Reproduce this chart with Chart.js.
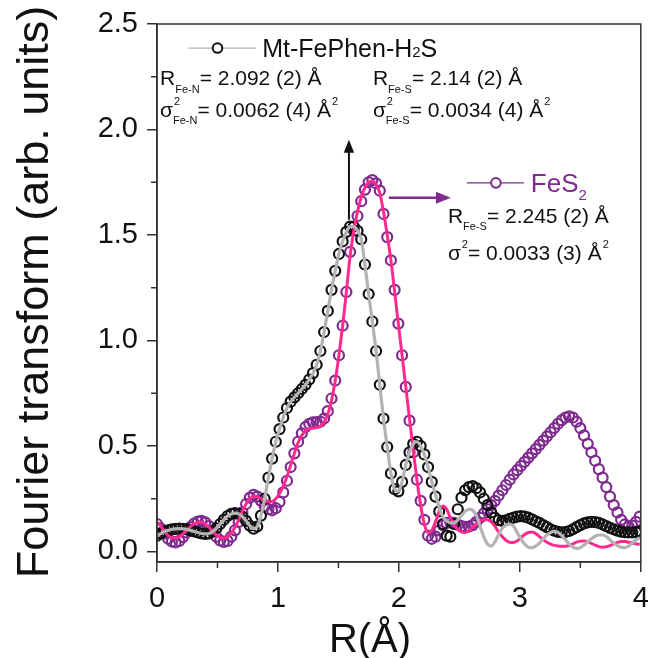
<!DOCTYPE html>
<html>
<head>
<meta charset="utf-8">
<script src="https://cdn.jsdelivr.net/npm/chart.js@4.4.1/dist/chart.umd.min.js"></script>
<style>
  html, body { margin: 0; padding: 0; background: #fff; }
</style>
</head>
<body>
<canvas id="chartFT" width="648" height="658"></canvas>
<script>
// uniform R grid of the transform (Å)
const dR = 0.0307

// |FT| of Mt-FePhen-H2S: experimental points and fit
const mtFePhenData = [
  0.075, 0.085, 0.095, 0.100, 0.105, 0.107, 0.108, 0.107, 0.105, 0.100,
  0.095, 0.090, 0.085, 0.083, 0.085, 0.095, 0.110, 0.130, 0.150, 0.168,
  0.178, 0.182, 0.178, 0.165, 0.145, 0.122, 0.108, 0.118, 0.170, 0.250,
  0.350, 0.440, 0.520, 0.580, 0.635, 0.680, 0.710, 0.730, 0.750, 0.770,
  0.790, 0.815, 0.845, 0.885, 0.950, 1.040, 1.140, 1.240, 1.330, 1.410,
  1.470, 1.515, 1.540, 1.540, 1.520, 1.480, 1.360, 1.220, 1.090, 0.950,
  0.790, 0.630, 0.495, 0.370, 0.295, 0.285, 0.330, 0.410, 0.470, 0.510,
  0.520, 0.500, 0.460, 0.400, 0.330, 0.260, 0.190, 0.130, 0.075, 0.070,
  0.130, 0.200, 0.255, 0.290, 0.305, 0.310, 0.300, 0.280, 0.250, 0.220,
  0.185, 0.160, 0.148, 0.145, 0.148, 0.155, 0.160, 0.165, 0.167, 0.165,
  0.160, 0.152, 0.143, 0.135, 0.125, 0.115, 0.105, 0.098, 0.093, 0.091,
  0.092, 0.097, 0.105, 0.115, 0.125, 0.133, 0.138, 0.140, 0.139, 0.135,
  0.128, 0.120, 0.112, 0.105, 0.099, 0.094, 0.091, 0.090, 0.090, 0.092, 0.095
]
const mtFePhenFit = [
  0.075, 0.085, 0.095, 0.100, 0.105, 0.107, 0.108, 0.107, 0.105, 0.100,
  0.095, 0.090, 0.085, 0.083, 0.085, 0.095, 0.110, 0.130, 0.150, 0.168,
  0.178, 0.182, 0.178, 0.165, 0.145, 0.122, 0.108, 0.118, 0.170, 0.250,
  0.350, 0.440, 0.520, 0.580, 0.635, 0.680, 0.710, 0.730, 0.750, 0.770,
  0.790, 0.815, 0.845, 0.885, 0.950, 1.040, 1.140, 1.240, 1.330, 1.410,
  1.470, 1.515, 1.540, 1.540, 1.520, 1.480, 1.360, 1.220, 1.090, 0.950,
  0.790, 0.630, 0.495, 0.370, 0.295, 0.285, 0.330, 0.410, 0.470, 0.510,
  0.520, 0.500, 0.460, 0.400, 0.330, 0.270, 0.210, 0.165, 0.145, 0.135,
  0.135, 0.150, 0.170, 0.190, 0.200, 0.195, 0.170, 0.120, 0.070, 0.035,
  0.025, 0.045, 0.080, 0.110, 0.125, 0.130, 0.120, 0.090, 0.060, 0.035,
  0.020, 0.018, 0.025, 0.040, 0.060, 0.078, 0.090, 0.095, 0.090, 0.075,
  0.055, 0.035, 0.020, 0.015, 0.018, 0.030, 0.045, 0.060, 0.072, 0.078,
  0.078, 0.070, 0.055, 0.040, 0.028, 0.020, 0.018, 0.025, 0.040, 0.055, 0.065
]

// |FT| of the FeS2 reference: experimental points and fit
const fes2Data = [
  0.130, 0.110, 0.085, 0.060, 0.047, 0.043, 0.050, 0.068, 0.090, 0.115,
  0.132, 0.142, 0.145, 0.138, 0.120, 0.095, 0.070, 0.052, 0.045, 0.050,
  0.070, 0.100, 0.140, 0.185, 0.225, 0.255, 0.268, 0.260, 0.240, 0.215,
  0.200, 0.195, 0.205, 0.235, 0.280, 0.335, 0.400, 0.465, 0.520, 0.560,
  0.590, 0.605, 0.612, 0.613, 0.615, 0.630, 0.665, 0.725, 0.810, 0.930,
  1.070, 1.230, 1.420, 1.520, 1.590, 1.660, 1.715, 1.750, 1.760, 1.745,
  1.710, 1.600, 1.490, 1.380, 1.240, 1.080, 0.930, 0.780, 0.620, 0.470,
  0.340, 0.240, 0.150, 0.075, 0.060, 0.070, 0.100, 0.125, 0.135, 0.138,
  0.135, 0.127, 0.120, 0.117, 0.118, 0.125, 0.140, 0.160, 0.180, 0.200,
  0.220, 0.240, 0.265, 0.290, 0.315, 0.340, 0.365, 0.385, 0.405, 0.425,
  0.445, 0.465, 0.485, 0.505, 0.525, 0.545, 0.565, 0.585, 0.605, 0.622,
  0.635, 0.640, 0.635, 0.615, 0.585, 0.550, 0.510, 0.470, 0.430, 0.390,
  0.350, 0.305, 0.260, 0.220, 0.185, 0.150, 0.128, 0.118, 0.122, 0.140, 0.165
]
const fes2Fit = [
  0.140, 0.120, 0.095, 0.075, 0.065, 0.064, 0.070, 0.083, 0.100, 0.118,
  0.130, 0.137, 0.138, 0.130, 0.115, 0.095, 0.078, 0.067, 0.064, 0.070,
  0.088, 0.115, 0.150, 0.190, 0.225, 0.250, 0.262, 0.260, 0.250, 0.240,
  0.235, 0.237, 0.250, 0.275, 0.310, 0.355, 0.410, 0.465, 0.515, 0.550,
  0.572, 0.582, 0.585, 0.587, 0.593, 0.612, 0.650, 0.715, 0.810, 0.930,
  1.070, 1.230, 1.400, 1.520, 1.610, 1.680, 1.725, 1.750, 1.755, 1.740,
  1.700, 1.610, 1.500, 1.380, 1.230, 1.080, 0.930, 0.780, 0.630, 0.480,
  0.340, 0.220, 0.130, 0.090, 0.100, 0.140, 0.190, 0.215, 0.200, 0.160,
  0.125, 0.105, 0.093, 0.090, 0.100, 0.115, 0.130, 0.143, 0.150, 0.150,
  0.140, 0.120, 0.092, 0.070, 0.053, 0.043, 0.042, 0.050, 0.065, 0.080,
  0.090, 0.092, 0.085, 0.070, 0.056, 0.044, 0.035, 0.029, 0.026, 0.025,
  0.025, 0.029, 0.036, 0.044, 0.049, 0.050, 0.046, 0.038, 0.030, 0.023,
  0.020, 0.022, 0.028, 0.036, 0.043, 0.047, 0.047, 0.044, 0.040, 0.036, 0.034
]

const ticksX = [0, 1, 2, 3, 4]
const ticksY = [0, 0.5, 1, 1.5, 2, 2.5]
const minorX = [0.5, 1.5, 2.5, 3.5]
const minorY = [0.25, 0.75, 1.25, 1.75, 2.25]

const font = "'Liberation Sans', Arial, sans-serif"
const axisColor = '#333'
const black = '#111'
const grey = '#b3b3b3'
const purple = '#7e2a8e'
const pink = '#ff2a8e'

// fit parameters written inside the plot (positions in R / |FT| units)
const notes = [
  { r: 0.025, v: 2.211, color: black, parts: ['R', { sub: 'Fe-N' }, '= 2.092 (2) Å'] },
  { r: 0.025, v: 2.060, color: black, parts: ['σ', { sup: '2', sub: 'Fe-N' }, '= 0.0062 (4) Å', { sup: '2' }] },
  { r: 1.785, v: 2.211, color: black, parts: ['R', { sub: 'Fe-S' }, '= 2.14 (2) Å'] },
  { r: 1.785, v: 2.060, color: black, parts: ['σ', { sup: '2', sub: 'Fe-S' }, '= 0.0034 (4) Å', { sup: '2' }] },
  { r: 2.405, v: 1.558, color: black, parts: ['R', { sub: 'Fe-S' }, '= 2.245 (2) Å'] },
  { r: 2.405, v: 1.383, color: black, parts: ['σ', { sup: '2' }, '= 0.0033 (3) Å', { sup: '2' }] }
]

function toPoints(values) {
  return values.map((v, i) => ({ x: i * dR, y: v }))
}

// text with sub/superscripts, left aligned at baseline (x, y)
function richText(ctx, x, y, parts, color, size) {
  ctx.fillStyle = color
  ctx.textAlign = 'left'
  ctx.textBaseline = 'alphabetic'
  const small = Math.round(size * 0.52)
  for (const p of parts) {
    if (typeof p === 'string') {
      ctx.font = `${size}px ${font}`
      ctx.fillText(p, x, y)
      x += ctx.measureText(p).width
      continue
    }
    ctx.font = `${p.size || small}px ${font}`
    let w = 0
    if (p.sup) {
      ctx.fillText(p.sup, x + 1, y + (p.supDy || -size * 0.55))
      w = ctx.measureText(p.sup).width + 1
    }
    if (p.sub) {
      ctx.fillText(p.sub, x, y + (p.subDy || size * 0.36))
      w = Math.max(w, ctx.measureText(p.sub).width)
    }
    if (p.inline) {
      ctx.fillText(p.inline, x, y)
      w = ctx.measureText(p.inline).width
    }
    x += w
  }
}

function arrow(ctx, x1, y1, x2, y2, color, width, head) {
  const ang = Math.atan2(y2 - y1, x2 - x1)
  ctx.strokeStyle = color
  ctx.fillStyle = color
  ctx.lineWidth = width
  ctx.beginPath()
  ctx.moveTo(x1, y1)
  ctx.lineTo(x2 - Math.cos(ang) * head * 0.8, y2 - Math.sin(ang) * head * 0.8)
  ctx.stroke()
  ctx.beginPath()
  ctx.moveTo(x2, y2)
  ctx.lineTo(x2 - Math.cos(ang) * head + Math.sin(ang) * head * 0.4, y2 - Math.sin(ang) * head - Math.cos(ang) * head * 0.4)
  ctx.lineTo(x2 - Math.cos(ang) * head - Math.sin(ang) * head * 0.4, y2 - Math.sin(ang) * head + Math.cos(ang) * head * 0.4)
  ctx.closePath()
  ctx.fill()
}

function legendMark(ctx, xs, r1, r2, rc, v, lineColor, dotColor) {
  const { x, y } = xs
  const py = y.getPixelForValue(v)
  ctx.strokeStyle = lineColor
  ctx.lineWidth = 1.3
  ctx.beginPath()
  ctx.moveTo(x.getPixelForValue(r1), py)
  ctx.lineTo(x.getPixelForValue(r2), py)
  ctx.stroke()
  ctx.fillStyle = '#fff'
  ctx.strokeStyle = dotColor
  ctx.lineWidth = 2
  ctx.beginPath()
  ctx.arc(x.getPixelForValue(rc), py, 4.8, 0, Math.PI * 2)
  ctx.fill()
  ctx.stroke()
}

// keep the plot box fixed: no extra room for the edge tick labels
function noEdgePadding(axis) {
  axis.paddingLeft = 0
  axis.paddingRight = 0
  axis.paddingTop = 0
  axis.paddingBottom = 0
}

const decorations = {
  id: 'decorations',
  afterDraw(chart) {
    const { ctx, chartArea: a, scales } = chart
    const { x, y } = scales
    ctx.save()

    // closed frame and minor ticks
    ctx.strokeStyle = axisColor
    ctx.lineWidth = 1.5
    ctx.strokeRect(a.left, a.top, a.right - a.left, a.bottom - a.top)
    ctx.beginPath()
    minorX.forEach(v => {
      const px = x.getPixelForValue(v)
      ctx.moveTo(px, a.bottom)
      ctx.lineTo(px, a.bottom + 6)
    })
    minorY.forEach(v => {
      const py = y.getPixelForValue(v)
      ctx.moveTo(a.left, py)
      ctx.lineTo(a.left - 6, py)
    })
    ctx.stroke()

    // axis titles
    ctx.fillStyle = black
    ctx.textAlign = 'center'
    ctx.textBaseline = 'alphabetic'
    ctx.font = `40px ${font}`
    ctx.fillText('R(Å)', 370, 652)
    ctx.save()
    ctx.translate(48, 292)
    ctx.rotate(-Math.PI / 2)
    ctx.font = `45px ${font}`
    ctx.fillText('Fourier transform (arb. units)', 0, 0)
    ctx.restore()

    // series keys
    legendMark(ctx, scales, 0.26, 0.82, 0.5, 2.386, grey, black)
    richText(ctx, x.getPixelForValue(0.87), y.getPixelForValue(2.344),
      ['Mt-FePhen-H', { inline: '2', size: 15 }, 'S'], black, 25)
    legendMark(ctx, scales, 2.562, 3.033, 2.802, 1.747, purple, purple)
    richText(ctx, x.getPixelForValue(3.091), y.getPixelForValue(1.705),
      ['FeS', { sub: '2', size: 15, subDy: 8 }], purple, 26)

    notes.forEach(n => {
      richText(ctx, x.getPixelForValue(n.r), y.getPixelForValue(n.v), n.parts, n.color, 21)
    })

    // arrows from the first-shell peaks to their parameters
    arrow(ctx, x.getPixelForValue(1.587), y.getPixelForValue(1.572),
      x.getPixelForValue(1.587), y.getPixelForValue(1.951), black, 2, 13)
    arrow(ctx, x.getPixelForValue(1.917), y.getPixelForValue(1.676),
      x.getPixelForValue(2.43), y.getPixelForValue(1.676), purple, 2.5, 15)

    ctx.restore()
  }
}

const ctx = document.getElementById('chartFT')

var ftChart = new Chart(ctx, {
  type: 'scatter',
  data: {
    datasets: [
      {
        label: 'Mt-FePhen-H2S fit',
        data: toPoints(mtFePhenFit),
        showLine: true,
        borderColor: grey,
        borderWidth: 3.2,
        pointRadius: 0,
        cubicInterpolationMode: 'monotone',
        clip: 0
      },
      {
        label: 'FeS2 fit',
        data: toPoints(fes2Fit),
        showLine: true,
        borderColor: pink,
        borderWidth: 3,
        pointRadius: 0,
        cubicInterpolationMode: 'monotone',
        clip: 0
      },
      {
        label: 'Mt-FePhen-H2S',
        data: toPoints(mtFePhenData),
        showLine: false,
        pointRadius: 5,
        pointBorderWidth: 2.2,
        pointBorderColor: black,
        pointBackgroundColor: 'rgba(0,0,0,0)',
        clip: 0
      },
      {
        label: 'FeS2',
        data: toPoints(fes2Data),
        showLine: false,
        pointRadius: 5,
        pointBorderWidth: 2.2,
        pointBorderColor: purple,
        pointBackgroundColor: 'rgba(0,0,0,0)',
        clip: 0
      }
    ]
  },
  options: {
    responsive: false,
    animation: false,
    layout: { padding: { top: 24, right: 7, left: 0, bottom: 0 } },
    plugins: {
      legend: { display: false },
      tooltip: { enabled: false }
    },
    scales: {
      x: {
        type: 'linear',
        min: 0,
        max: 4,
        afterBuildTicks: (axis) => { axis.ticks = ticksX.map(v => ({ value: v })) },
        afterFit: (axis) => { axis.height = 96; noEdgePadding(axis) },
        ticks: {
          font: { family: font, size: 29 },
          color: black,
          padding: 10,
          maxRotation: 0,
          callback: (v) => String(v)
        },
        grid: { drawOnChartArea: false, tickLength: 10, color: axisColor, lineWidth: 1.5 },
        border: { display: true, color: axisColor, width: 1.5 }
      },
      y: {
        min: -0.05,
        max: 2.5,
        afterBuildTicks: (axis) => { axis.ticks = ticksY.map(v => ({ value: v })) },
        afterFit: (axis) => { axis.width = 157; noEdgePadding(axis) },
        ticks: {
          font: { family: font, size: 29 },
          color: black,
          padding: 9,
          callback: (v) => v.toFixed(1)
        },
        grid: { drawOnChartArea: false, tickLength: 10, color: axisColor, lineWidth: 1.5 },
        border: { display: true, color: axisColor, width: 1.5 }
      }
    }
  },
  plugins: [decorations]
})
</script>
</body>
</html>
